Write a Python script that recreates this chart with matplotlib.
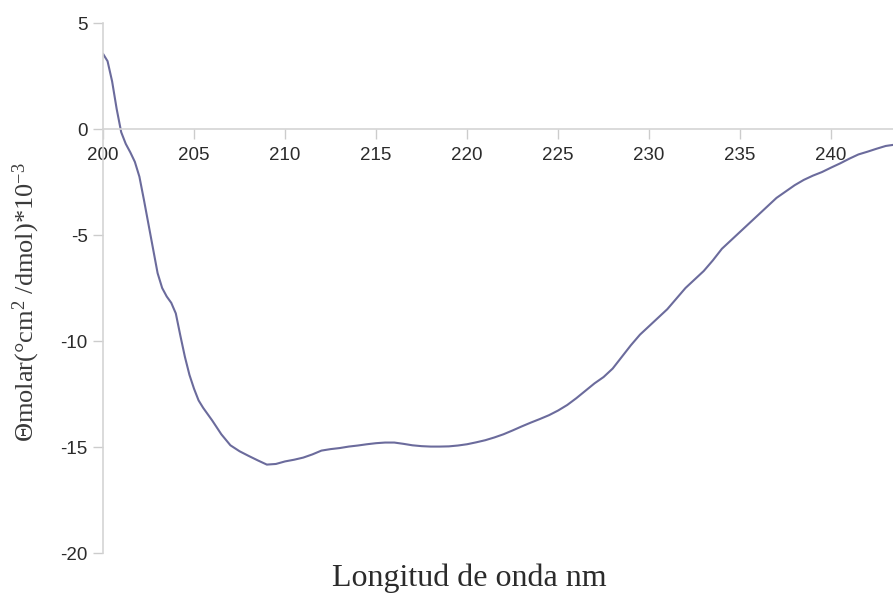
import matplotlib
matplotlib.use("Agg")
import matplotlib.pyplot as plt

# Circular dichroism spectrum: wavelength (nm) vs molar ellipticity (x10^-3)
wavelength = [
    200.0, 200.25, 200.5, 200.75, 201.0, 201.25, 201.5, 201.75, 202.0, 202.25,
    202.5, 202.75, 203.0, 203.25, 203.5, 203.75, 204.0, 204.25, 204.5, 204.75,
    205.0, 205.25, 205.5, 205.75, 206.0, 206.5, 207.0, 207.5, 208.0, 208.5,
    209.0, 209.5, 210.0, 210.5, 211.0, 211.5, 212.0, 212.5, 213.0, 213.5,
    214.0, 214.5, 215.0, 215.5, 216.0, 216.5, 217.0, 217.5, 218.0, 218.5,
    219.0, 219.5, 220.0, 220.5, 221.0, 221.5, 222.0, 222.5, 223.0, 223.5,
    224.0, 224.5, 225.0, 225.5, 226.0, 226.5, 227.0, 227.5, 228.0, 228.5,
    229.0, 229.5, 230.0, 230.5, 231.0, 231.5, 232.0, 232.5, 233.0, 233.5,
    234.0, 234.5, 235.0, 235.5, 236.0, 236.5, 237.0, 237.5, 238.0, 238.5,
    239.0, 239.5, 240.0, 240.5, 241.0, 241.5, 242.0, 242.5, 243.0, 243.4,
]
theta_molar = [
    3.55, 3.2, 2.25, 0.95, -0.15, -0.7, -1.1, -1.55, -2.25, -3.35,
    -4.5, -5.65, -6.8, -7.5, -7.9, -8.2, -8.7, -9.75, -10.75, -11.6,
    -12.25, -12.8, -13.15, -13.45, -13.75, -14.4, -14.92, -15.2, -15.42, -15.63,
    -15.83, -15.8, -15.68, -15.6, -15.5, -15.35, -15.17, -15.1, -15.05, -14.98,
    -14.93, -14.87, -14.82, -14.79, -14.79, -14.85, -14.92, -14.96, -14.98, -14.98,
    -14.97, -14.93, -14.87, -14.78, -14.68, -14.55, -14.4, -14.22, -14.03, -13.85,
    -13.68, -13.5, -13.28, -13.02, -12.7, -12.35, -12.0, -11.7, -11.3, -10.75,
    -10.2, -9.7, -9.3, -8.9, -8.5, -8.0, -7.5, -7.1, -6.7, -6.2,
    -5.65, -5.25, -4.85, -4.45, -4.05, -3.65, -3.25, -2.95, -2.65, -2.4,
    -2.2, -2.03, -1.82, -1.62, -1.4, -1.2, -1.07, -0.93, -0.8, -0.75,
]
x_ticks = [200, 205, 210, 215, 220, 225, 230, 235, 240]
y_ticks = [-20, -15, -10, -5, 0, 5]

plt.rcParams["mathtext.fontset"] = "custom"
plt.rcParams["mathtext.rm"] = "Liberation Serif"
plt.rcParams["mathtext.it"] = "Liberation Serif:italic"

fig = plt.figure(figsize=(8.93, 5.94), dpi=100)
ax = fig.add_axes([103 / 893, (594 - 553) / 594, 1 - 103 / 893, (553 - 23) / 594])

ax.plot(wavelength, theta_molar, color="#6b6b9c", linewidth=1.5,
        solid_capstyle="round", solid_joinstyle="round")

ax.set_xlim(200, 243.4)
ax.set_ylim(-20, 5)
ax.set_xticks(x_ticks)
ax.set_yticks(y_ticks)
ax.set_yticklabels([str(v) for v in y_ticks])

for s in ("top", "right"):
    ax.spines[s].set_visible(False)
ax.spines["bottom"].set_position(("data", 0))
for s in ("left", "bottom"):
    ax.spines[s].set_color("#d4d4d4")
    ax.spines[s].set_linewidth(1.2)

ax.tick_params(axis="both", colors="#cccccc", labelcolor="#2b2b2b",
               labelsize=13.5, length=7, width=1.0)
ax.tick_params(axis="x", direction="out", pad=6)
ax.tick_params(axis="y", direction="out", pad=4)
for lbl in ax.get_xticklabels() + ax.get_yticklabels():
    lbl.set_family("Liberation Sans")

fig.text(0.526, (594 - 586) / 594, "Longitud de onda nm", family="Liberation Serif",
         fontsize=23, color="#2b2b2b", ha="center", va="baseline")
fig.text(0.029, 0.492, "Θmolar(°cm$^{2}$ /dmol)*10$^{-3}$", family="Liberation Serif",
         fontsize=19, color="#3a3a3a", rotation=90, ha="center", va="center")

fig.savefig("out.png", dpi=100)
